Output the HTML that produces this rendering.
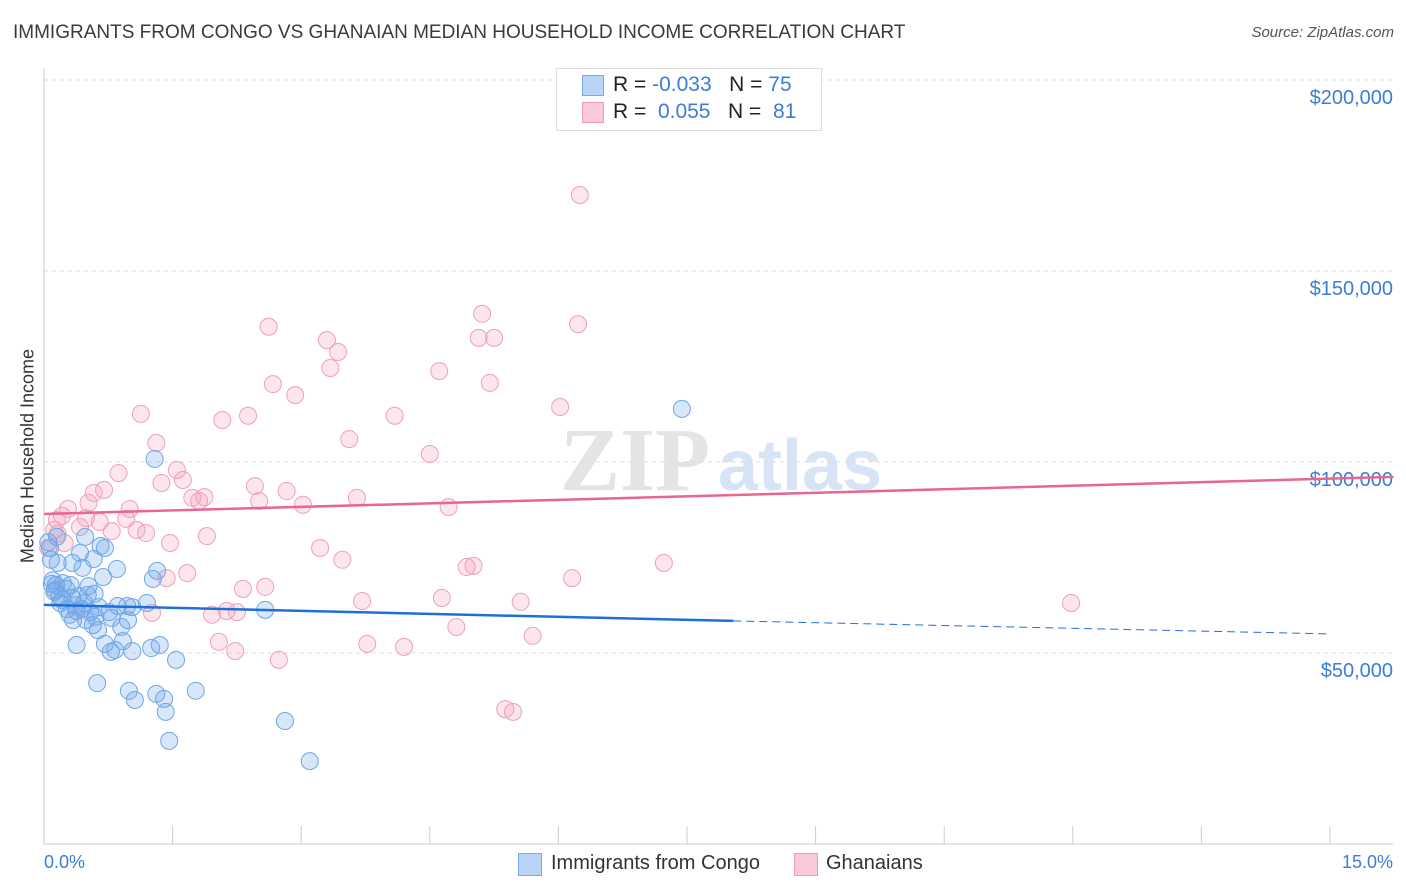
<!DOCTYPE html>
<html><head><meta charset="utf-8"><style>
body{margin:0;background:#fff;font-family:"Liberation Sans",sans-serif;}
#wrap{position:relative;width:1406px;height:892px;overflow:hidden;}
.t{position:absolute;white-space:nowrap;}
</style></head><body>
<div id="wrap">
<div class="t" style="left:13px;top:22px;font-size:19px;color:#3a3a3a;">IMMIGRANTS FROM CONGO VS GHANAIAN MEDIAN HOUSEHOLD INCOME CORRELATION CHART</div>
<div class="t" style="right:12px;top:24px;font-size:15px;color:#555;font-style:italic;">Source: ZipAtlas.com</div>
<svg id="svg" width="1406" height="892" style="position:absolute;left:0;top:0"></svg>
<div class="t" style="left:28px;top:456px;font-size:18px;color:#333;transform:translate(-50%,-50%) rotate(-90deg);">Median Household Income</div>
<div class="t" style="left:44px;top:852px;font-size:18px;color:#3b7dd8;">0.0%</div>
<div class="t" style="right:13px;top:852px;font-size:18px;color:#3b7dd8;">15.0%</div>
<div style="position:absolute;left:556px;top:68px;width:264px;height:61px;border:1px solid #ddd;background:#fff;"></div>
<div style="position:absolute;left:582px;top:75px;width:20px;height:19px;background:#b8d4f6;border:1px solid #7aaae6;"></div>
<div style="position:absolute;left:582px;top:102px;width:20px;height:19px;background:#fbc8d7;border:1px solid #ef9ab5;"></div>
<div class="t" style="left:613px;top:73px;font-size:21px;color:#222;">R = <span style="color:#3b7dd8">-0.033</span>&nbsp;&nbsp;&nbsp;N = <span style="color:#3b7dd8">75</span></div>
<div class="t" style="left:613px;top:100px;font-size:21px;color:#222;">R = &nbsp;<span style="color:#3b7dd8">0.055</span>&nbsp;&nbsp;&nbsp;N = &nbsp;<span style="color:#3b7dd8">81</span></div>
<div style="position:absolute;left:518px;top:853px;width:22px;height:21px;background:#b8d4f6;border:1px solid #7aaae6;"></div>
<div class="t" style="left:551px;top:852px;font-size:20px;color:#333;">Immigrants from Congo</div>
<div style="position:absolute;left:794px;top:853px;width:22px;height:21px;background:#fbc8d7;border:1px solid #ef9ab5;"></div>
<div class="t" style="left:826px;top:852px;font-size:20px;color:#333;">Ghanaians</div>
</div>
<script>
const yTicks=[50000,100000,150000,200000];
const yTickLabels=["$50,000","$100,000","$150,000","$200,000"];
const congoX=[1.29,7.44,0.15,0.07,0.08,0.48,0.66,0.71,0.42,0.58,0.85,0.69,0.16,0.33,0.45,0.09,0.14,0.22,0.31,0.26,0.13,1.27,1.32,0.19,0.21,0.33,0.38,0.44,0.54,0.40,0.59,0.51,0.47,0.64,0.76,0.86,0.97,1.03,1.20,2.58,0.30,0.34,0.49,0.57,0.79,0.98,0.63,0.90,0.71,0.83,0.78,0.92,1.03,0.38,1.25,1.35,1.54,0.62,0.99,1.06,1.31,1.40,1.42,1.77,1.46,2.81,3.10,0.05,0.10,0.12,0.18,0.27,0.36,0.52,0.60];
const congoY=[100.8,113.9,80.4,77.5,74.4,80.4,78.0,77.5,76.2,74.6,72.0,69.9,73.6,73.6,72.3,68.1,67.8,68.3,67.8,66.8,66.5,69.4,71.5,63.1,63.9,64.4,61.0,61.5,60.7,64.9,65.5,65.2,63.1,62.0,60.7,62.3,62.3,62.0,63.1,61.3,60.0,58.6,58.6,57.3,59.2,58.6,56.0,56.8,52.4,50.8,50.3,53.1,50.5,52.1,51.3,52.1,48.2,42.1,40.1,37.7,39.3,38.0,34.6,40.1,27.0,32.2,21.7,79.0,69.0,66.0,65.0,61.5,62.5,67.5,59.5];
const ghanaX=[6.25,2.62,6.23,3.30,3.43,5.11,5.07,5.25,3.34,4.61,2.67,5.20,2.93,6.02,1.13,2.38,4.09,2.08,1.31,3.56,4.50,1.55,0.87,1.37,1.62,0.70,0.58,2.46,2.83,1.73,1.81,1.87,2.51,3.65,3.02,4.72,0.52,0.28,0.21,0.15,0.49,1.00,0.65,0.96,0.42,0.79,0.12,0.16,1.19,1.08,1.90,1.47,0.24,0.05,3.22,3.48,4.93,5.01,7.23,1.67,1.43,6.16,2.32,2.58,4.64,3.71,5.56,11.98,1.26,1.96,2.13,2.25,4.81,5.70,2.04,3.77,4.20,2.23,2.74,5.38,5.47];
const ghanaY=[169.9,135.4,136.1,131.9,128.8,138.8,132.5,132.5,124.6,123.8,120.4,120.7,117.5,114.4,112.6,112.1,112.1,111.0,105.0,106.0,102.1,97.9,97.1,94.5,95.3,92.7,91.9,93.7,92.4,90.6,89.8,90.8,89.8,90.6,88.8,88.2,89.3,87.7,85.9,84.8,85.3,87.7,84.3,85.1,83.0,81.9,82.2,81.2,81.4,82.2,80.6,78.8,78.8,77.5,77.5,74.4,72.5,72.8,73.6,70.9,69.6,69.6,66.8,67.3,64.4,63.6,63.4,63.1,60.5,60.0,61.0,60.7,56.8,54.5,52.9,52.4,51.6,50.5,48.2,35.3,34.6];
const congoTrend=[[0,62.6],[8.04,58.4],[15,55.0]];
const ghanaTrend=[[0,86.4],[15.74,96.1]];
const NS="http://www.w3.org/2000/svg";
const svg=document.getElementById('svg');
const X0=44,X1=1330,Y0=844;
function sx(p){return X0+(p/15)*(X1-X0);}
function sy(v){return Y0-v/50000*191;}
function sk(k){return sy(k*1000);}
function mk(tag,attrs){const e=document.createElementNS(NS,tag);for(const k in attrs)e.setAttribute(k,attrs[k]);svg.appendChild(e);return e;}
let w=mk('text',{x:635,y:490,'font-size':90,'font-family':'Liberation Serif, serif',fill:'#e4e4e4','text-anchor':'middle','font-weight':'bold'});w.textContent='ZIP';


let w2=mk('text',{x:800,y:490,'font-size':72,'font-family':'Liberation Sans, sans-serif',fill:'#d6e4f5','text-anchor':'middle','font-weight':'bold'});w2.textContent='atlas';


yTicks.forEach((v,i)=>{
 const g=mk('line',{x1:X0,x2:1393,y1:sy(v),y2:sy(v),stroke:'#ddd','stroke-dasharray':'4,4'});
 
 
 const t=mk('text',{x:1393,y:sy(v)+24,'font-size':20,fill:'#3b7dd8','text-anchor':'end','font-family':'Liberation Sans, sans-serif'});
 t.textContent=yTickLabels[i];
 
 
});
let ax=mk('line',{x1:X0,x2:X0,y1:68,y2:Y0,stroke:'#ccc'});


let bx=mk('line',{x1:X0,x2:1393,y1:Y0,y2:Y0,stroke:'#ccc'});


for(let i=0;i<=10;i++){const t=mk('line',{x1:sx(i*1.5),x2:sx(i*1.5),y1:Y0,y2:Y0-18,stroke:'#ccc'});
 
 }
function dots(xs,ys,fill,stroke,name){xs.forEach((x,i)=>{const c=mk('circle',{cx:sx(x),cy:sk(ys[i]),r:8.5,fill:fill,stroke:stroke,'stroke-width':1});
 
 });}
dots(ghanaX,ghanaY,'rgba(244,160,188,0.28)','#efa0b9','ghanaians-point');
dots(congoX,congoY,'rgba(110,165,232,0.28)','#6fa7e6','congo-point');
let l1=mk('line',{x1:sx(congoTrend[0][0]),y1:sk(congoTrend[0][1]),x2:sx(congoTrend[1][0]),y2:sk(congoTrend[1][1]),stroke:'#1f6fd8','stroke-width':2.5});


let l2=mk('line',{x1:sx(congoTrend[1][0]),y1:sk(congoTrend[1][1]),x2:sx(congoTrend[2][0]),y2:sk(congoTrend[2][1]),stroke:'#1f6fd8','stroke-width':1,'stroke-dasharray':'8,5'});


let l3=mk('line',{x1:sx(ghanaTrend[0][0]),y1:sk(ghanaTrend[0][1]),x2:sx(ghanaTrend[1][0]),y2:sk(ghanaTrend[1][1]),stroke:'#e8668f','stroke-width':2.5});


</script>
</body></html>
